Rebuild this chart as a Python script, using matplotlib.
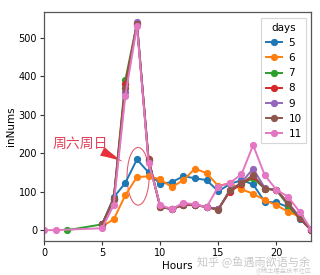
import matplotlib
matplotlib.use("Agg")
import matplotlib.pyplot as plt
from matplotlib.patches import Ellipse, FancyArrowPatch

plt.rcParams['font.family'] = ['DejaVu Sans', 'Noto Sans CJK SC']

days = [5, 6, 7, 8, 9, 10, 11]
colors = ['#1f77b4', '#ff7f0e', '#2ca02c', '#d62728', '#9467bd', '#8c564b', '#e377c2']

hours_5 = [5, 6, 7, 8, 9, 10, 11, 12, 13, 14, 15, 16, 17, 18, 19, 20, 21, 22, 23]
vals_5 = [15, 85, 123, 184, 150, 120, 125, 140, 135, 130, 101, 120, 130, 119, 74, 72, 60, 30, 0]

hours_6 = [5, 6, 7, 8, 9, 10, 11, 12, 13, 14, 15, 16, 17, 18, 19, 20, 21, 22, 23]
vals_6 = [10, 28, 91, 138, 140, 132, 112, 130, 160, 148, 115, 122, 106, 95, 78, 65, 48, 35, 0]

hours_7 = [2, 5, 6, 7, 8, 9, 10, 11, 12, 13, 14, 15, 16, 17, 18, 19, 20, 21, 22, 23]
vals_7 = [0, 15, 82, 390, 538, 182, 62, 55, 66, 66, 60, 55, 102, 120, 135, 108, 104, 65, 32, 0]

hours_8 = [5, 6, 7, 8, 9, 10, 11, 12, 13, 14, 15, 16, 17, 18, 19, 20, 21, 22, 23]
vals_8 = [15, 80, 380, 535, 185, 60, 55, 65, 65, 60, 55, 100, 120, 140, 108, 105, 70, 31, 0]

hours_9 = [5, 6, 7, 8, 9, 10, 11, 12, 13, 14, 15, 16, 17, 18, 19, 20, 21, 22, 23]
vals_9 = [15, 78, 360, 540, 180, 62, 54, 68, 66, 60, 54, 104, 124, 160, 110, 104, 72, 34, 0]

hours_10 = [5, 6, 7, 8, 9, 10, 11, 12, 13, 14, 15, 16, 17, 18, 19, 20, 21, 22, 23]
vals_10 = [15, 80, 370, 536, 182, 60, 55, 66, 66, 60, 52, 104, 122, 143, 108, 104, 70, 33, 0]

hours_11 = [0, 1, 5, 6, 7, 8, 9, 10, 11, 12, 13, 14, 15, 16, 17, 18, 19, 20, 21, 22, 23]
vals_11 = [0, 0, 5, 65, 350, 530, 175, 65, 55, 71, 67, 60, 113, 123, 145, 221, 143, 105, 87, 48, 2]

series_hours = [hours_5, hours_6, hours_7, hours_8, hours_9, hours_10, hours_11]
series_vals = [vals_5, vals_6, vals_7, vals_8, vals_9, vals_10, vals_11]

fig = plt.figure(figsize=(3.2, 2.75), dpi=100)
ax = fig.add_axes([0.1375, 0.124, 0.835, 0.832])

for d, c, h, v in zip(days, colors, series_hours, series_vals):
    ax.plot(h, v, color=c, marker='o', markersize=4.2, linewidth=1.4, label=str(d))

ax.set_xlim(0, 23)
ax.set_ylim(-28, 567)
ax.set_xticks([0, 5, 10, 15, 20])
ax.set_yticks([0, 100, 200, 300, 400, 500])
ax.tick_params(labelsize=7, length=3, width=0.8, color='#333333', pad=2)
for s in ax.spines.values():
    s.set_color('#555555')
    s.set_linewidth(0.9)
ax.set_xlabel('Hours', fontsize=7.5, labelpad=2)
ax.set_ylabel('inNums', fontsize=7.5, labelpad=2)

leg = ax.legend(title='days', loc='upper right', fontsize=7.5, title_fontsize=7.5,
                handlelength=1.6, labelspacing=0.5, borderpad=0.4,
                handletextpad=0.6, frameon=True, fancybox=False,
                bbox_to_anchor=(1.0, 0.995))
leg.get_frame().set_edgecolor('#cccccc')
leg.get_frame().set_linewidth(0.8)

# annotation
ell = Ellipse((8.1, 140), width=1.9, height=150, fill=False, edgecolor='#e06070', linewidth=0.8)
ax.add_patch(ell)
ax.text(0.7, 225, '周六周日', fontsize=10, color='#e0405a', family=['Noto Sans CJK SC'],
        va='center', ha='left')
arr = FancyArrowPatch((4.8, 208), (7.0, 175), arrowstyle='wedge,tail_width=7,shrink_factor=0.4',
                      color='#e8303a', mutation_scale=1, linewidth=0)
ax.add_patch(arr)

# watermarks
fig.text(0.615, 0.045, '知乎 @鱼遇雨欲语与余', fontsize=8, color='#c8c8c8',
         family=['Noto Sans CJK SC'], ha='left', va='center')
fig.text(0.80, 0.012, '@稀土掘金技术社区', fontsize=4.5, color='#cccccc',
         family=['Noto Sans CJK SC'], ha='left', va='center')

fig.savefig('out.png', dpi=100)
